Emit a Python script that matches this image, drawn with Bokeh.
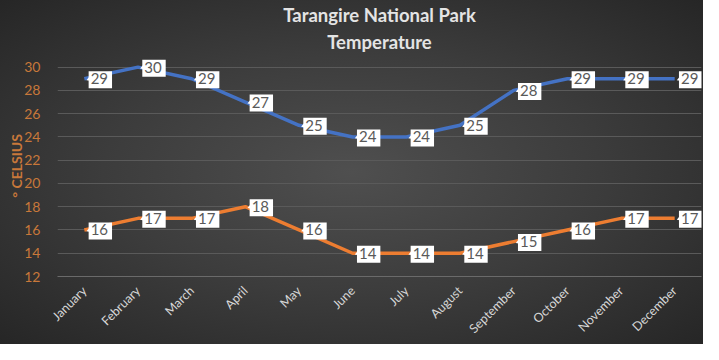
from bokeh.plotting import figure
from bokeh.models import ColumnDataSource, Range1d, FixedTicker, Title
from bokeh.transform import dodge
from bokeh.core.properties import value
from bokeh.embed import file_html
from bokeh.resources import INLINE
import math

months = ["January", "February", "March", "April", "May", "June", "July",
          "August", "September", "October", "November", "December"]
high = [29, 30, 29, 27, 25, 24, 24, 25, 28, 29, 29, 29]
low = [16, 17, 17, 18, 16, 14, 14, 14, 15, 16, 17, 17]
y_ticks = [12, 14, 16, 18, 20, 22, 24, 26, 28, 30]
title_lines = ["Tarangire National Park", "Temperature"]
y_label = "° CELSIUS"

W, H = 703, 344
p = figure(x_range=months, y_range=Range1d(12, 31), width=W, height=H,
           output_backend="svg", toolbar_location=None,
           min_border_left=57, min_border_right=2, min_border_top=55, min_border_bottom=66)
p.background_fill_alpha = 0
p.border_fill_alpha = 0
p.outline_line_color = None
p.styles = {"background": "radial-gradient(ellipse at 50% 50%, #4f4f4f 0%, #3c3c3c 50%, #262626 100%)"}

# titles (first added sits closest to the plot)
for t, off in [(title_lines[1], 6), (title_lines[0], 0)]:
    p.add_layout(Title(text=t, align="center", text_color="#e4e4e4", text_font="Lato",
                       text_font_style="bold", text_font_size="18.5px", standoff=off,
                       offset=0), "above")

p.yaxis.ticker = FixedTicker(ticks=y_ticks)
p.yaxis.axis_line_color = None
p.yaxis.major_tick_line_color = None
p.yaxis.minor_tick_line_color = None
p.yaxis.major_label_text_color = "#c8783a"
p.yaxis.major_label_text_font = "Lato"
p.yaxis.major_label_text_font_size = "14px"
p.yaxis.major_label_standoff = 11
p.yaxis.axis_label = y_label
p.yaxis.axis_label_text_color = "#c8783a"
p.yaxis.axis_label_text_font = "Lato"
p.yaxis.axis_label_text_font_style = "bold"
p.yaxis.axis_label_text_font_size = "14px"
p.yaxis.axis_label_standoff = -4

p.xaxis.axis_line_color = "#6a6a6a"
p.xaxis.major_tick_line_color = None
p.xaxis.minor_tick_line_color = None
p.xaxis.major_label_orientation = math.pi / 4
p.xaxis.major_label_text_color = "#d6d6d6"
p.xaxis.major_label_text_font = "Lato"
p.xaxis.major_label_text_font_size = "12.5px"
p.xaxis.major_label_standoff = 6

p.xgrid.grid_line_color = None
p.ygrid.grid_line_color = "#5a5a5a"
p.ygrid.grid_line_width = 1
p.x_range.range_padding = 0.0

src = ColumnDataSource(dict(month=months, high=high, low=low,
                            high_t=[str(v) for v in high], low_t=[str(v) for v in low]))

p.line("month", "high", source=src, line_color="#4472c4", line_width=3.5, line_join="round")
p.line("month", "low", source=src, line_color="#ed7d31", line_width=3.5, line_join="round")

for col in ["high", "low"]:
    p.scatter(dodge("month", 0.11, range=p.x_range), col, source=src, marker="triangle",
              size=7, angle=math.pi / 2 + 0.35, fill_color="white", line_color=None)
    p.text(dodge("month", 0.0, range=p.x_range), col, text=col + "_t", source=src,
           x_offset=16, y_offset=1, text_align="center", text_baseline="middle",
           text_color="#595959", text_font=value("Lato"), text_font_size="15px",
           background_fill_color="white", padding=[2, 4, 2, 4])

open("out.html", "w").write(file_html(p, INLINE))
